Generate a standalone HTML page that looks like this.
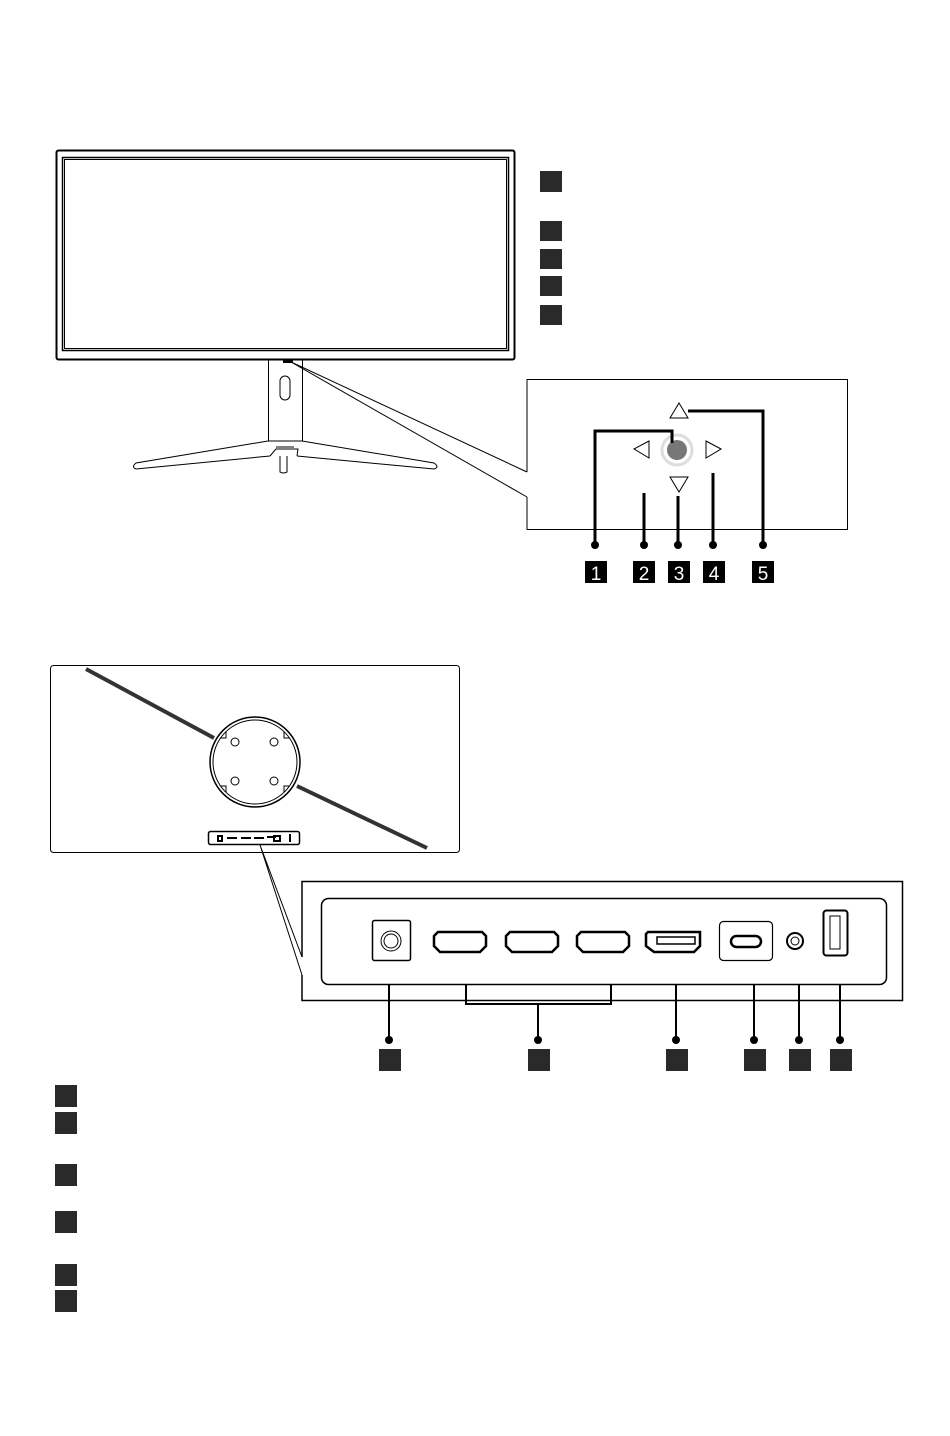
<!DOCTYPE html>
<html><head><meta charset="utf-8"><style>
html,body{margin:0;padding:0;background:#fff;}
svg{display:block;}
text{font-family:"Liberation Sans",sans-serif;}
</style></head><body>
<svg width="950" height="1436" viewBox="0 0 950 1436" xmlns="http://www.w3.org/2000/svg">
<g fill="none" stroke="#000">
<!-- front monitor -->
<rect x="56.5" y="150.5" width="458" height="209" rx="2" stroke-width="2"/>
<rect x="62.5" y="157.5" width="446" height="193" stroke-width="1.5"/>
<rect x="64.5" y="159.5" width="442" height="189" stroke-width="1"/>
<rect x="283" y="360" width="10" height="3" fill="#000" stroke="none"/>
<path d="M268.5 360 V441 M302.5 360 V441 M268 441 H303" stroke-width="1"/>
<rect x="280" y="376" width="10" height="24" rx="5" stroke-width="1"/>
<path d="M268 441 L136 463 Q131 467 136 469 L270 456 M302 441 L434 463 Q440 467 434 469 L297 456 M270 456 L276 449 H298 L297 456 M276 447 H294" stroke-width="1"/>
<path d="M280 456 V472 Q283 474 287 472 V456" stroke-width="1"/>
<path d="M291 362 L527 472 M291 362 L527 497" stroke-width="1"/>
<path d="M527 472 V379.5 H847.5 V529.5 H527 V497" stroke-width="1"/>
<!-- keypad -->
<path d="M679 403 L688 418 H670 Z M634 449 L649 441 V458 Z M721 449 L706 441 V458 Z M679 492 L688 477 H670 Z" stroke-width="1"/>
<circle cx="677" cy="450" r="15" stroke="#ddd" stroke-width="3"/>
<circle cx="677" cy="450" r="10" fill="#777" stroke="none"/>
<path d="M672 443 V431 H595 V545 M644 493 V545 M678 496 V545 M713 473 V545 M688 411 H763 V545" stroke-width="3"/>
</g>
<g fill="#000">
<circle cx="595" cy="545" r="4"/><circle cx="644" cy="545" r="4"/><circle cx="678" cy="545" r="4"/><circle cx="713" cy="545" r="4"/><circle cx="763" cy="545" r="4"/>
<rect x="585" y="561" width="22" height="22"/><rect x="633" y="561" width="22" height="22"/><rect x="668" y="561" width="22" height="22"/><rect x="703" y="561" width="22" height="22"/><rect x="752" y="561" width="22" height="22"/>
</g>
<g fill="#fff" font-size="19" text-anchor="middle">
<text x="596" y="580">1</text><text x="644" y="580">2</text><text x="679" y="580">3</text><text x="714" y="580">4</text><text x="763" y="580">5</text>
</g>
<g fill="#2a2a2a">
<rect x="540" y="171" width="22" height="21"/><rect x="540" y="221" width="22" height="20"/><rect x="540" y="249" width="22" height="20"/><rect x="540" y="276" width="22" height="20"/><rect x="540" y="305" width="22" height="20"/>
</g>
<!-- rear -->
<g fill="none" stroke="#000">
<rect x="50.5" y="665.5" width="409" height="187" rx="3" stroke-width="1"/>
<path d="M86 669 L214 738 M297 786 L427 848" stroke="#333" stroke-width="4"/>
<circle cx="255" cy="762" r="45" stroke-width="1.5"/>
<circle cx="255" cy="762" r="42" stroke-width="1"/>
<circle cx="235" cy="742" r="4" stroke-width="1"/><circle cx="274" cy="742" r="4" stroke-width="1"/>
<circle cx="235" cy="781" r="4" stroke-width="1"/><circle cx="274" cy="781" r="4" stroke-width="1"/>
<path d="M220 738 H226 V732 M290 738 H284 V732 M220 786 H226 V792 M290 786 H284 V792" stroke-width="1"/>
<rect x="208.5" y="831.5" width="91" height="13" rx="2" stroke-width="1.5"/>
<path d="M218 836 h4v5h-4z M227 838h10 M241 838h10 M254 838h10 M267 837h9 M274 836h6v5h-6z M290 834v8" stroke-width="2"/>
<path d="M260 845 L302 957 M260 845 L302 975" stroke-width="1"/>
<path d="M302 957 V881.5 H902.5 V1000.5 H302 V975" stroke-width="1.5"/>
<rect x="321.5" y="898.5" width="565" height="86" rx="7" stroke-width="1.5"/>
<rect x="372.5" y="920.5" width="38" height="40" rx="2" stroke-width="1.5"/>
<circle cx="391" cy="941" r="10" stroke-width="1"/><circle cx="391" cy="941" r="7" stroke-width="1"/>
<path d="M438 932 H482 L486 936 V946 L480 952 H440 L434 946 V936 Z" stroke-width="2.5"/>
<path d="M510 932 H554 L558 936 V946 L552 952 H512 L506 946 V936 Z" stroke-width="2.5"/>
<path d="M581 932 H625 L629 936 V946 L623 952 H583 L577 946 V936 Z" stroke-width="2.5"/>
<path d="M648 932 H700 V946 L694 952 H654 L646 946 V934 Z" stroke-width="2.5"/>
<rect x="657" y="937" width="38" height="7" stroke-width="1.5"/>
<rect x="719.5" y="921.5" width="53" height="39" rx="4" stroke-width="1.2"/>
<rect x="731" y="936" width="30" height="11" rx="5.5" stroke-width="2.5"/>
<circle cx="795" cy="941" r="8" stroke-width="2"/><circle cx="795" cy="941" r="4" stroke-width="1"/>
<rect x="823.5" y="910.5" width="24" height="45" rx="3" stroke-width="2"/>
<rect x="830" y="916" width="10" height="33" stroke-width="1"/>
<path d="M466 984 V1004 H611 V984 M389 984 V1040 M538 1004 V1040 M676 984 V1040 M754 984 V1040 M799 984 V1040 M840 984 V1040" stroke-width="2"/>
</g>
<g fill="#000">
<circle cx="389" cy="1040" r="4"/><circle cx="538" cy="1040" r="4"/><circle cx="676" cy="1040" r="4"/><circle cx="754" cy="1040" r="4"/><circle cx="799" cy="1040" r="4"/><circle cx="840" cy="1040" r="4"/>
</g>
<g fill="#2a2a2a">
<rect x="379" y="1049" width="22" height="22"/><rect x="528" y="1049" width="22" height="22"/><rect x="666" y="1049" width="22" height="22"/><rect x="744" y="1049" width="22" height="22"/><rect x="789" y="1049" width="22" height="22"/><rect x="830" y="1049" width="22" height="22"/>
<rect x="55" y="1085" width="22" height="22"/><rect x="55" y="1112" width="22" height="22"/><rect x="55" y="1164" width="22" height="22"/><rect x="55" y="1211" width="22" height="22"/><rect x="55" y="1264" width="22" height="22"/><rect x="55" y="1290" width="22" height="22"/>
</g>
</svg>
</body></html>
